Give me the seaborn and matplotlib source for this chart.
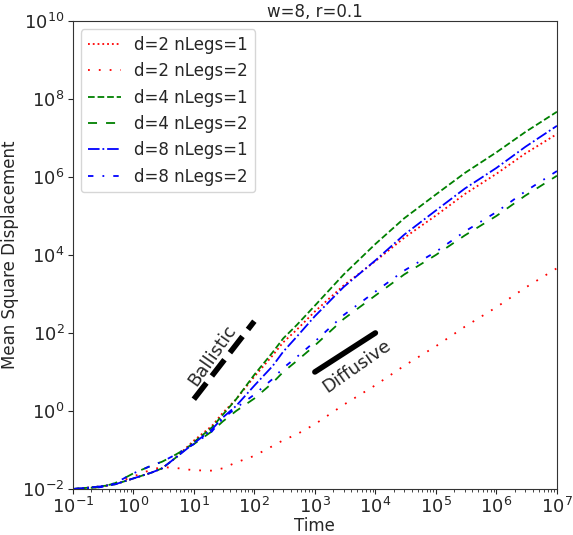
import numpy as np
import pandas as pd
import matplotlib
matplotlib.use("Agg")
import matplotlib.pyplot as plt
import seaborn as sns
from matplotlib.ticker import NullLocator

# ---------------------------------------------------------------
# 1) Data (MSD vs time, w=8, r=0.1)
# ---------------------------------------------------------------
time = [0.1, 0.2, 0.3, 0.5, 1, 2, 3, 5, 10, 20, 30, 50, 100, 200, 300, 500,
        1e3, 3e3, 1e4, 3e4, 1e5, 3e5, 1e6, 3e6, 1e7]

# log10 of the mean square displacement at each time above
log_d2_n1 = [-2.0, -1.96, -1.93, -1.88, -1.73, -1.58, -1.47, -1.2, -0.76, -0.38,
             -0.05, 0.3, 0.88, 1.42, 1.76, 2.08, 2.55, 3.22, 3.84, 4.44, 5.01,
             5.56, 6.08, 6.6, 7.10]
log_d2_n2 = [-2.0, -1.97, -1.95, -1.86, -1.68, -1.5, -1.44, -1.46, -1.52, -1.53,
             -1.47, -1.32, -1.15, -0.9, -0.75, -0.6, -0.34, 0.16, 0.66, 1.16,
             1.66, 2.16, 2.66, 3.16, 3.66]
log_d4_n1 = [-2.0, -1.96, -1.93, -1.88, -1.73, -1.58, -1.47, -1.2, -0.8, -0.42,
             -0.1, 0.3, 0.93, 1.5, 1.86, 2.2, 2.7, 3.5, 4.28, 4.94, 5.55,
             6.1, 6.63, 7.15, 7.67]
log_d4_n2 = [-2.0, -1.97, -1.95, -1.85, -1.6, -1.4, -1.3, -1.12, -0.85, -0.52,
             -0.27, 0.0, 0.32, 0.72, 1.0, 1.28, 1.68, 2.36, 2.96, 3.5, 4.0,
             4.5, 5.0, 5.52, 6.03]
log_d8_n1 = [-2.0, -1.96, -1.93, -1.88, -1.73, -1.58, -1.47, -1.2, -0.83, -0.47,
             -0.17, 0.13, 0.65, 1.15, 1.52, 1.9, 2.43, 3.18, 3.86, 4.52, 5.14,
             5.7, 6.23, 6.77, 7.31]
log_d8_n2 = [-2.0, -1.97, -1.95, -1.85, -1.6, -1.4, -1.3, -1.12, -0.85, -0.52,
             -0.2, 0.08, 0.42, 0.82, 1.1, 1.38, 1.78, 2.46, 3.06, 3.6, 4.08,
             4.6, 5.1, 5.63, 6.15]

labels = ["d=2 nLegs=1", "d=2 nLegs=2", "d=4 nLegs=1",
          "d=4 nLegs=2", "d=8 nLegs=1", "d=8 nLegs=2"]
series = [log_d2_n1, log_d2_n2, log_d4_n1, log_d4_n2, log_d8_n1, log_d8_n2]
colors = ["r", "r", "g", "g", "b", "b"]
styles = [":", (0, (1, 5)), "--", (0, (5, 5)), "-.", (0, (3, 5, 1, 5))]

# reference slopes
ballistic_t = [10, 100]
ballistic_y = [2, 200]
diffusive_t = [1e3, 1e4]
diffusive_y = [10, 100]

xticks = [1e-1, 1e0, 1e1, 1e2, 1e3, 1e4, 1e5, 1e6, 1e7]
yticks = [1e-2, 1e0, 1e2, 1e4, 1e6, 1e8, 1e10]

# ---------------------------------------------------------------
# 2) Long format table
# ---------------------------------------------------------------
frames = []
for lab, vals in zip(labels, series):
    frames.append(pd.DataFrame({"Time": time,
                                "MSD": 10.0 ** np.array(vals),
                                "run": lab}))
df = pd.concat(frames, ignore_index=True)

# ---------------------------------------------------------------
# 3) Plot
# ---------------------------------------------------------------
sns.set_style("ticks", {"axes.edgecolor": "0.2"})
plt.rcParams["font.family"] = ["DejaVu Sans"]

fig, ax = plt.subplots(figsize=(5.73, 5.35), dpi=100)
fig.subplots_adjust(left=0.127, right=0.972, top=0.961, bottom=0.086)
ax.set(xscale="log", yscale="log")

for lab, col, ls in zip(labels, colors, styles):
    sns.lineplot(data=df[df["run"] == lab], x="Time", y="MSD", ax=ax,
                 color=col, linestyle=ls, linewidth=1.3, label=lab)

ax.plot(ballistic_t, ballistic_y, color="k", linestyle="--", linewidth=4)
ax.plot(diffusive_t, diffusive_y, color="k", linestyle="-", linewidth=4)
ax.text(20, 26, "Ballistic", rotation=55, fontsize=13,
        ha="center", va="center")
ax.text(4900, 14, "Diffusive", rotation=35, fontsize=13,
        ha="center", va="center")

ax.set_xticks(xticks)
ax.set_yticks(yticks)
ax.yaxis.set_minor_locator(NullLocator())
ax.set_xlim(1e-1, 1e7)
ax.set_ylim(1e-2, 1e10)
ax.tick_params(axis="both", which="major", labelsize=13, length=3.5, pad=2.5)
ax.tick_params(axis="both", which="minor", length=2)

ax.set_xlabel("Time", fontsize=12, labelpad=0)
ax.set_ylabel("Mean Square Displacement", fontsize=12, labelpad=2)
ax.set_title("w=8, r=0.1", fontsize=12, pad=3)
ax.legend(loc="upper left", fontsize=12)

fig.savefig("out.png", dpi=100)
